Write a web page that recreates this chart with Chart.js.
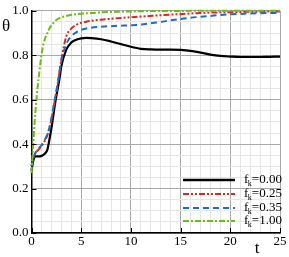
<!DOCTYPE html>
<html>
<head>
<meta charset="utf-8">
<script src="https://cdn.jsdelivr.net/npm/chart.js@4"></script>
<style>
  html, body { margin: 0; padding: 0; background: #fff; }
  #wrap { width: 289px; height: 257px; }
</style>
</head>
<body>
<div id="wrap"><canvas id="c" width="289" height="257"></canvas></div>
<script>
// time grid shared by all series
const tVals = [0, 0.2, 0.4, 0.6, 0.8, 1, 1.2, 1.4, 1.6, 1.8, 2, 2.2, 2.4, 2.6, 2.8, 3, 3.5, 4, 4.5, 5, 5.5, 6,
  7, 8, 9, 10, 11, 12, 13, 14, 15, 16, 17, 18, 19, 20, 21, 22, 23, 24, 25];

const theta000 = [0.28, 0.33, 0.345, 0.345, 0.345, 0.347, 0.352, 0.36, 0.375, 0.42, 0.47, 0.53, 0.59, 0.64, 0.69, 0.75, 0.825, 0.857, 0.87, 0.876, 0.878, 0.877,
  0.872, 0.862, 0.85, 0.838, 0.829, 0.826, 0.825, 0.825, 0.824, 0.82, 0.812, 0.803, 0.797, 0.794, 0.792, 0.792, 0.792, 0.793, 0.794];
const theta025 = [0.3, 0.34, 0.36, 0.37, 0.38, 0.39, 0.405, 0.42, 0.44, 0.47, 0.51, 0.56, 0.61, 0.66, 0.72, 0.78, 0.885, 0.92, 0.937, 0.946, 0.951, 0.955,
  0.96, 0.964, 0.968, 0.971, 0.974, 0.977, 0.98, 0.983, 0.985, 0.988, 0.99, 0.992, 0.993, 0.994, 0.995, 0.996, 0.996, 0.997, 0.997];
const theta035 = [0.3, 0.34, 0.36, 0.375, 0.385, 0.395, 0.41, 0.425, 0.445, 0.475, 0.515, 0.565, 0.615, 0.665, 0.72, 0.775, 0.85, 0.885, 0.903, 0.914, 0.92, 0.924,
  0.928, 0.931, 0.933, 0.935, 0.938, 0.944, 0.95, 0.957, 0.963, 0.969, 0.973, 0.977, 0.981, 0.984, 0.986, 0.988, 0.989, 0.99, 0.991];
const theta100 = [0.27, 0.42, 0.55, 0.65, 0.73, 0.8, 0.85, 0.88, 0.9, 0.92, 0.935, 0.945, 0.955, 0.962, 0.967, 0.971, 0.977, 0.982, 0.985, 0.987, 0.989, 0.99,
  0.993, 0.995, 0.996, 0.997, 0.998, 0.999, 0.999, 0.999, 0.999, 1, 1, 1, 1, 1, 1, 1, 1, 1, 1];

const seriesLabels = ['0.00', '0.25', '0.35', '1.00'];
const seriesColors = ['#000000', '#d42a1f', '#1f6bbf', '#6cbb1a'];
const seriesDashes = [[], [6, 2, 2, 2, 2, 2], [6, 4], [6, 2, 2, 2]];
const seriesData = [theta000, theta025, theta035, theta100];

const FONT = '"Liberation Serif", "Times New Roman", serif';

function pts(arr) {
  return tVals.map((t, i) => ({ x: t, y: arr[i] }));
}

// axis titles, inward major ticks and the in-plot legend
const decorPlugin = {
  id: 'decor',
  afterDraw(chart) {
    const ctx = chart.ctx;
    const xs = chart.scales.x, ys = chart.scales.y;
    const area = chart.chartArea;
    ctx.save();
    ctx.strokeStyle = '#000';
    ctx.lineWidth = 1;
    ctx.beginPath();
    for (let v = 0; v <= 25; v += 5) {
      const px = Math.round(xs.getPixelForValue(v)) + 0.5;
      ctx.moveTo(px, area.bottom);
      ctx.lineTo(px, area.bottom - 5);
    }
    for (let v = 0; v <= 1.0001; v += 0.2) {
      const py = Math.round(ys.getPixelForValue(v)) + 0.5;
      ctx.moveTo(area.left, py);
      ctx.lineTo(area.left + 5, py);
    }
    ctx.stroke();

    ctx.fillStyle = '#000';
    ctx.font = '17px ' + FONT;
    ctx.textAlign = 'center';
    ctx.textBaseline = 'middle';
    ctx.fillText('\u03b8', 6, 27);
    ctx.fillText('t', 257, 249);

    // legend
    const rows = [180, 194, 208, 221];
    rows.forEach((y, i) => {
      ctx.beginPath();
      ctx.strokeStyle = seriesColors[i];
      ctx.lineWidth = i === 0 ? 2.5 : 2;
      ctx.setLineDash(seriesDashes[i]);
      ctx.moveTo(183, y);
      ctx.lineTo(235, y);
      ctx.stroke();
      ctx.setLineDash([]);
      ctx.fillStyle = '#000';
      ctx.textAlign = 'left';
      ctx.textBaseline = 'middle';
      ctx.font = '13px ' + FONT;
      ctx.fillText('f', 244, y);
      const fw = ctx.measureText('f').width;
      ctx.font = '8px ' + FONT;
      ctx.fillText('k', 244 + fw - 0.5, y + 4);
      ctx.font = '13px ' + FONT;
      ctx.fillText('=' + seriesLabels[i], 244 + fw + 3.5, y);
    });
    ctx.restore();
  }
};

new Chart(document.getElementById('c').getContext('2d'), {
  type: 'line',
  data: {
    datasets: seriesData.map((arr, i) => ({
      label: 'fk=' + seriesLabels[i],
      data: pts(arr),
      borderColor: seriesColors[i],
      borderWidth: i === 0 ? 2.2 : 2,
      borderDash: seriesDashes[i],
      pointRadius: 0,
      cubicInterpolationMode: 'monotone',
      fill: false,
      clip: 3
    })).reverse()
  },
  options: {
    responsive: false,
    animation: false,
    devicePixelRatio: 1,
    layout: { padding: { top: 8, right: 9, left: 0, bottom: 0 } },
    plugins: { legend: { display: false }, tooltip: { enabled: false } },
    scales: {
      x: {
        type: 'linear',
        min: 0,
        max: 25,
        afterFit(scale) { scale.height = 24; },
        ticks: {
          stepSize: 1,
          autoSkip: false,
          maxRotation: 0,
          padding: 1,
          color: '#000',
          font: { family: FONT, size: 13 },
          callback: v => (v % 5 === 0 ? String(v) : '')
        },
        grid: {
          drawTicks: false,
          color: c => (c.tick.value % 5 === 0 ? '#a8a8a8' : '#e6e6e6'),
          lineWidth: 1
        },
        border: { color: '#000', width: 1.5 }
      },
      y: {
        type: 'linear',
        min: 0,
        max: 1,
        afterFit(scale) { scale.width = 31.5; },
        ticks: {
          stepSize: 0.05,
          autoSkip: false,
          padding: 3,
          color: '#000',
          font: { family: FONT, size: 13 },
          callback: v => (Math.round(v * 100) % 20 === 0 ? v.toFixed(1) : '')
        },
        grid: {
          drawTicks: false,
          color: c => (Math.round(c.tick.value * 100) % 20 === 0 ? '#a8a8a8' : '#e6e6e6'),
          lineWidth: 1
        },
        border: { color: '#000', width: 1.5 }
      }
    }
  },
  plugins: [decorPlugin]
});
</script>
</body>
</html>
